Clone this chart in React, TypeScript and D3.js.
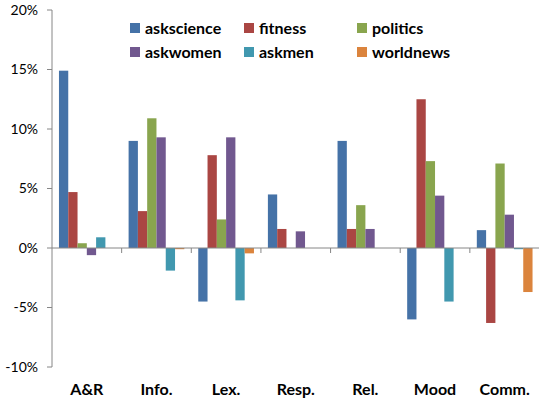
import React from "react";
import * as d3 from "d3";

const categories = ["A&R", "Info.", "Lex.", "Resp.", "Rel.", "Mood", "Comm."];
const seriesNames = ["askscience", "fitness", "politics", "askwomen", "askmen", "worldnews"];
const askscience = [14.9, 9.0, -4.5, 4.5, 9.0, -6.0, 1.5];
const fitness = [4.7, 3.1, 7.8, 1.6, 1.6, 12.5, -6.3];
const politics = [0.4, 10.9, 2.4, 0, 3.6, 7.3, 7.1];
const askwomen = [-0.6, 9.3, 9.3, 1.4, 1.6, 4.4, 2.8];
const askmen = [0.9, -1.9, -4.4, 0, 0, -4.5, -0.1];
const worldnews = [0, -0.1, -0.45, 0, 0, 0, -3.7];
const seriesValues = [askscience, fitness, politics, askwomen, askmen, worldnews];
const colors = ["#4572A7", "#AA4643", "#89A54E", "#71588F", "#4198AF", "#DB843D"];
const yTicks = [-10, -5, 0, 5, 10, 15, 20];

export default function App() {
  const W = 539, H = 403;
  const left = 52, right = 539.5, top = 10, bottom = 367;
  const y = d3.scaleLinear().domain([-10, 20]).range([bottom, top]);
  const x0 = d3.scaleBand().domain(categories).range([left, right]).paddingInner(0).paddingOuter(0);
  const bw = x0.bandwidth() / 7.5;
  const font = "Lato, 'Open Sans', sans-serif";
  const legendCols = [130, 244, 357];
  const legendRows = [28, 52];
  return (
    <svg width={W} height={H} style={{ position: "absolute", left: 0, top: 0, background: "#fff" }}>
      {/* bars */}
      {seriesValues.map((vals, si) =>
        vals.map((v, ci) => {
          if (v === 0) return null;
          const xx = (x0(categories[ci]) as number) + bw * 0.75 + si * bw;
          const y1 = y(Math.max(0, v));
          const y2 = y(Math.min(0, v));
          return <rect key={si + "-" + ci} x={xx} y={y1} width={bw} height={y2 - y1} fill={colors[si]} />;
        })
      )}
      {/* y axis */}
      <line x1={left} x2={left} y1={top} y2={bottom} stroke="#868686" strokeWidth={1} />
      {yTicks.map((t) => (
        <g key={t}>
          <line x1={left - 5} x2={left} y1={y(t)} y2={y(t)} stroke="#868686" />
          <text x={38} y={y(t)} dy="0.35em" textAnchor="end" fontFamily={font} fontSize={14} fill="#000">
            {t + "%"}
          </text>
        </g>
      ))}
      {/* x axis at zero */}
      <line x1={left} x2={right} y1={y(0)} y2={y(0)} stroke="#868686" />
      {categories.map((c, i) => (
        <line key={"t" + i} x1={(x0(c) as number) + x0.bandwidth()} x2={(x0(c) as number) + x0.bandwidth()} y1={y(0)} y2={y(0) + 5} stroke="#868686" />
      ))}
      {categories.map((c) => (
        <text key={"l" + c} x={(x0(c) as number) + x0.bandwidth() / 2} y={395} textAnchor="middle" fontFamily={font} fontWeight="bold" fontSize={16} fill="#000">
          {c}
        </text>
      ))}
      {/* legend */}
      {seriesNames.map((n, i) => {
        const col = i % 3;
        const row = Math.floor(i / 3);
        const lx = legendCols[col];
        const ly = legendRows[row];
        return (
          <g key={n}>
            <rect x={lx} y={ly - 5} width={10} height={10} fill={colors[i]} />
            <text x={lx + 15} y={ly} dy="0.35em" fontFamily={font} fontWeight="bold" fontSize={16} fill="#000">
              {n}
            </text>
          </g>
        );
      })}
    </svg>
  );
}
